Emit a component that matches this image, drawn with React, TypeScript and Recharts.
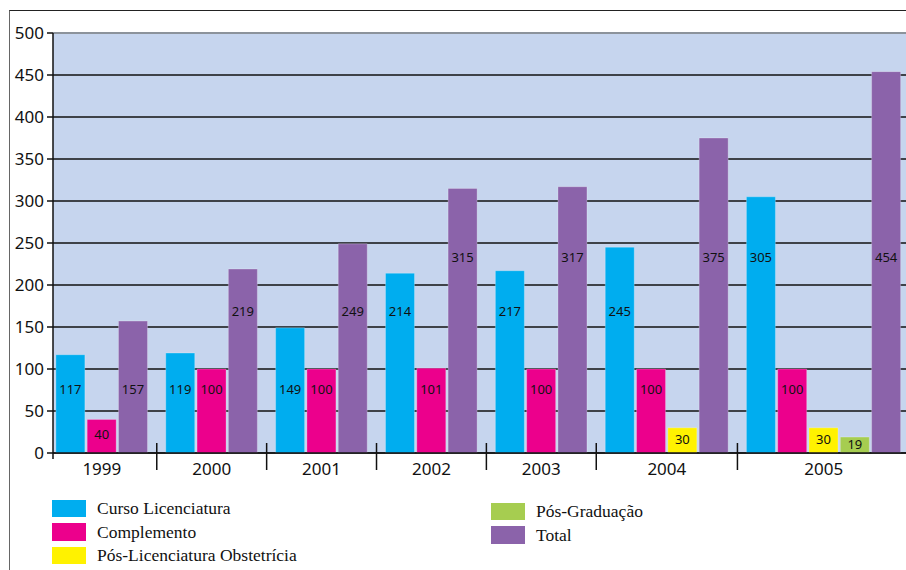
import React from 'react';
import { BarChart, Bar, XAxis, YAxis, CartesianGrid, ReferenceLine, LabelList } from 'recharts';

const years = ['1999', '2000', '2001', '2002', '2003', '2004', '2005'];
const cursoLicenciatura = [117, 119, 149, 214, 217, 245, 305];
const complemento = [40, 100, 100, 101, 100, 100, 100];
const posLicObstetricia = [null, null, null, null, null, 30, 30];
const posGraduacao = [null, null, null, null, null, null, 19];
const total = [157, 219, 249, 315, 317, 375, 454];
const yTicks = [0, 50, 100, 150, 200, 250, 300, 350, 400, 450, 500];

const series = [
  { key: 'curso', name: 'Curso Licenciatura', color: '#00adef', values: cursoLicenciatura },
  { key: 'complemento', name: 'Complemento', color: '#ec008c', values: complemento },
  { key: 'obstetricia', name: 'Pós-Licenciatura Obstetrícia', color: '#fff200', values: posLicObstetricia },
  { key: 'graduacao', name: 'Pós-Graduação', color: '#a6cd50', values: posGraduacao },
  { key: 'total', name: 'Total', color: '#8b63aa', values: total },
];

// layout constants (in slot units)
const LEAD = 0.56;
const GAP = 0.51;
const X_MAX = 27.25;

type Row = { x: number; [k: string]: number | null };
const rows: Row[] = [];
const tickInfo = new Map<number, { kind: string; label?: string }>();
tickInfo.set(0, { kind: 'start' });
let cum = 0;
years.forEach((yr, j) => {
  const start = LEAD + cum + j * GAP;
  if (j > 0) tickInfo.set(start - 0.5 - GAP / 2, { kind: 'sep' });
  let k = 0;
  series.forEach((s) => {
    const v = s.values[j];
    if (v !== null && v !== undefined) {
      rows.push({ x: start + k, [s.key]: v });
      k++;
    }
  });
  tickInfo.set(start + (k - 1) / 2, { kind: 'year', label: yr });
  cum += k;
});
const xTicks = Array.from(tickInfo.keys()).sort((a, b) => a - b);

// label anchor height (in value units) by magnitude band
const labelTier = (v: number) => (v < 60 ? v * 0.55 : v < 200 ? 76 : v < 300 ? 169 : 233);

const BarValueLabel = (props: any) => {
  const { x, y, width, height, value } = props;
  if (value === null || value === undefined || !height) return null;
  const bottom = y + height;
  const cy = bottom - (labelTier(value) * height) / value;
  return (
    <text x={x + width / 2} y={cy + 4.5} textAnchor="middle" fontFamily="Noto Sans" fontSize={13} fill="#111">
      {value}
    </text>
  );
};

const XTick = (props: any) => {
  const { x, y, payload } = props;
  const info = tickInfo.get(payload.value);
  if (!info) return null;
  if (info.kind === 'start') return <line x1={x} x2={x} y1={y} y2={y + 6} stroke="#111" strokeWidth={1.5} />;
  if (info.kind === 'sep') return <line x1={x} x2={x} y1={y - 10} y2={y + 17} stroke="#111" strokeWidth={1.5} />;
  return (
    <text x={x} y={y + 22} textAnchor="middle" fontFamily="Noto Sans" fontSize={17} fill="#111">
      {info.label}
    </text>
  );
};

const legendLeft = series.slice(0, 3);
const legendRight = series.slice(3);

const LegendCol = ({ items, left, top }: { items: typeof series; left: number; top: number }) => (
  <div style={{ position: 'absolute', left, top }}>
    {items.map((s) => (
      <div key={s.key} style={{ display: 'flex', alignItems: 'center', height: 23.4 }}>
        <div style={{ width: 34, height: 17.5, background: s.color }} />
        <span style={{ marginLeft: 11, fontFamily: 'Liberation Serif', fontSize: 17.5, color: '#111', whiteSpace: 'nowrap' }}>
          {s.name}
        </span>
      </div>
    ))}
  </div>
);

export default function App() {
  return (
    <div style={{ position: 'absolute', left: 0, top: 0, width: 906, height: 570, background: '#fff', overflow: 'hidden' }}>
      <div style={{ position: 'absolute', left: 8.5, top: 10, width: 900, height: 570, borderTop: '1.3px solid #222', borderLeft: '1.5px solid #666' }} />
      <BarChart width={906} height={570} data={rows} margin={{ top: 33, right: 0, left: 0, bottom: 0 }} style={{ position: 'absolute', left: 0, top: 0 }}>
        <CartesianGrid vertical={false} stroke="#111" strokeWidth={1.3} fill="#c6d5ee" fillOpacity={1} />
        <XAxis
          type="number"
          dataKey="x"
          domain={[0, X_MAX]}
          allowDataOverflow
          ticks={xTicks}
          interval={0}
          tick={<XTick />}
          tickLine={false}
          tickSize={0}
          tickMargin={0}
          height={117}
          axisLine={{ stroke: '#111', strokeWidth: 1.5 }}
        />
        <YAxis
          domain={[0, 500]}
          ticks={yTicks}
          interval={0}
          width={53}
          tickSize={6}
          tickMargin={3}
          tick={{ fontFamily: 'Noto Sans', fontSize: 17, fill: '#111' }}
          tickLine={{ stroke: '#111', strokeWidth: 1.5 }}
          axisLine={{ stroke: '#111', strokeWidth: 1.5 }}
        />
        <ReferenceLine y={500} stroke="#8c939b" strokeWidth={2} />
        {series.map((s) => (
          <Bar
            key={s.key}
            dataKey={s.key}
            name={s.name}
            stackId="a"
            fill={s.color}
            stroke="rgba(255,255,255,0.25)"
            strokeWidth={1}
            barSize={29}
            isAnimationActive={false}
          >
            <LabelList dataKey={s.key} content={<BarValueLabel />} />
          </Bar>
        ))}
      </BarChart>
      <LegendCol items={legendLeft} left={52} top={497} />
      <LegendCol items={legendRight} left={491} top={500} />
    </div>
  );
}
